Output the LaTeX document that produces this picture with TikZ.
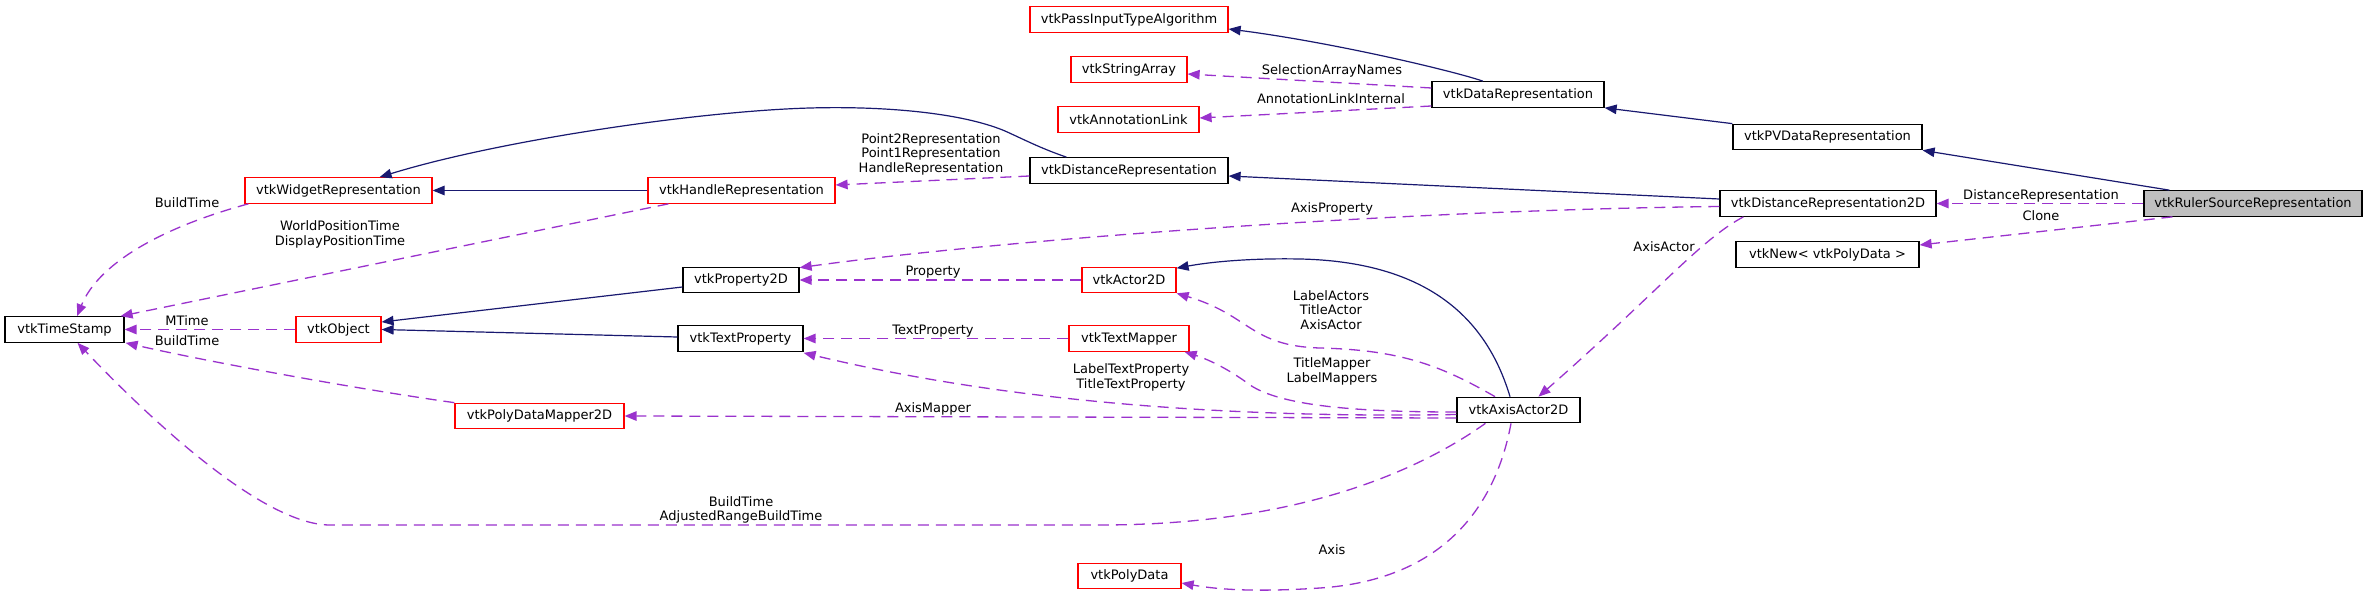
\documentclass[tikz,border=0pt]{standalone}
\usepackage{fontspec}
\setmainfont{DejaVu Sans}
\usetikzlibrary{arrows.meta,calc}
\definecolor{inh}{HTML}{191970}
\definecolor{use}{HTML}{9A32CD}
\definecolor{redb}{HTML}{FF0000}
\definecolor{grayf}{HTML}{BFBFBF}
\begin{document}
\begin{tikzpicture}[x=1pt,y=-1pt,
  font=\fontsize{13}{14.5}\selectfont,
  cls/.style={draw=black, line width=1.2pt, fill=white, minimum height=25.5pt, inner sep=0pt},
  redcls/.style={cls, draw=redb},
  inhe/.style={draw=inh, line width=1.2pt, -{Triangle[length=12pt,width=9.5pt]}},
  usee/.style={draw=use, line width=1.3pt, dash pattern=on 11pt off 7pt, -{Triangle[length=12pt,width=9.5pt]}},
  lbl/.style={inner sep=0pt, align=center}
]
\fill[white] (0,0) rectangle (2368,596);
\useasboundingbox (0,0) rectangle (2368,596);

% nodes
\node[cls, minimum width=119pt] (ts) at (64.5,329.5) {vtkTimeStamp};
\node[redcls, minimum width=85pt] (obj) at (338.5,329.5) {vtkObject};
\node[redcls, minimum width=187pt] (wr) at (338.5,190.5) {vtkWidgetRepresentation};
\node[redcls, minimum width=169pt] (pdm) at (539.5,416) {vtkPolyDataMapper2D};
\node[redcls, minimum width=187pt] (hr) at (741.5,190.5) {vtkHandleRepresentation};
\node[cls, minimum width=116pt] (p2d) at (741,280) {vtkProperty2D};
\node[cls, minimum width=125pt] (tp) at (740.5,338.5) {vtkTextProperty};
\node[redcls, minimum width=198pt] (pita) at (1129,19.5) {vtkPassInputTypeAlgorithm};
\node[redcls, minimum width=116pt] (sa) at (1129,69.5) {vtkStringArray};
\node[redcls, minimum width=141pt] (al) at (1128.5,119.5) {vtkAnnotationLink};
\node[cls, minimum width=198pt] (disr) at (1129,170.5) {vtkDistanceRepresentation};
\node[redcls, minimum width=94pt] (a2d) at (1129,280) {vtkActor2D};
\node[redcls, minimum width=120pt] (tm) at (1129,338.5) {vtkTextMapper};
\node[redcls, minimum width=103pt] (pd) at (1129.5,576) {vtkPolyData};
\node[cls, minimum width=172pt] (dr) at (1518,94.5) {vtkDataRepresentation};
\node[cls, minimum width=123pt] (aa) at (1518.5,410) {vtkAxisActor2D};
\node[cls, minimum width=189pt] (pvdr) at (1827.5,137) {vtkPVDataRepresentation};
\node[cls, minimum width=216pt] (dr2d) at (1828,203.5) {vtkDistanceRepresentation2D};
\node[cls, minimum width=183pt] (vnew) at (1827.5,254.5) {vtkNew< vtkPolyData >};
\node[cls, fill=grayf, minimum width=218pt] (ruler) at (2253,203.5) {vtkRulerSourceRepresentation};

% inheritance
\draw[inhe] ($(dr.north)+(-35,0)$) .. controls (1450,70) and (1330,42) .. ($(pita.east)+(0,9.5)$);
\draw[inhe] (pvdr.north west) -- (dr.south east);
\draw[inhe] ($(ruler.north west)+(26,0)$) -- (pvdr.south east);
\draw[inhe] ($(dr2d.west)+(0,-4.5)$) -- ($(disr.east)+(0,5.5)$);
\draw[inhe] ($(disr.north west)+(37,0)$) .. controls (1040,148) and (1025,140) .. (1005,131)
   .. controls (960,112) and (880,106) .. (810,108)
   .. controls (700,111) and (500,140) .. ($(wr.north east)+(-53,0)$);
\draw[inhe] (hr.west) -- (wr.east);
\draw[inhe] ($(p2d.west)+(0,7)$) -- ($(obj.east)+(0,-7.5)$);
\draw[inhe] ($(tp.west)+(0,-1.5)$) -- (obj.east);
\draw[inhe] ($(aa.north)+(-8.5,0)$) .. controls (1490,330) and (1440,262) .. (1300,259)
   .. controls (1250,258) and (1210,262) .. ($(a2d.north east)+(0,1.5)$);

% usage
\draw[usee] (ruler.west) -- (dr2d.east);
\draw[usee] ($(ruler.south west)+(29,0)$) -- ($(vnew.east)+(0,-9.5)$);
\draw[usee] ($(dr.west)+(0,-6.5)$) -- ($(sa.east)+(0,4.5)$);
\draw[usee] ($(dr.west)+(0,11.5)$) -- ($(al.east)+(0,-1.5)$);
\draw[usee] ($(disr.west)+(0,5.5)$) -- ($(hr.east)+(0,-5.5)$);
\draw[usee] ($(dr2d.west)+(0,3)$) .. controls (1400,210) and (1000,240) .. ($(p2d.north east)+(0,1)$);
\draw[usee] (a2d.west) -- (p2d.east);
\draw[usee] (tm.west) -- (tp.east);
\draw[usee] ($(dr2d.south west)+(24,0)$) .. controls (1700,240) and (1660,290) .. ($(aa.north)+(20,0)$);
\draw[usee] ($(aa.north)+(-23.5,0)$) .. controls (1440,365) and (1400,350) .. (1320,348)
   .. controls (1250,346) and (1250,315) .. (a2d.south east);
\draw[usee] ($(aa.west)+(0,2)$) .. controls (1350,412) and (1280,405) .. (1250,385)
   .. controls (1230,370) and (1210,360) .. ($(tm.south east)+(-5,0)$);
\draw[usee] ($(aa.west)+(0,4.5)$) .. controls (1250,418) and (1020,405) .. ($(tp.south east)+(0,1)$);
\draw[usee] ($(aa.west)+(0,8)$) -- (pdm.east);
\draw[usee] ($(aa.south west)+(29,0)$) .. controls (1420,470) and (1300,525) .. (1100,525)
   -- (330,525) .. controls (270,525) and (170,440) .. ($(ts.south)+(13,0)$);
\draw[usee] ($(aa.south)+(-7.5,0)$) .. controls (1495,510) and (1440,580) .. (1320,588)
   .. controls (1260,592) and (1220,590) .. ($(pd.east)+(0,7)$);
\draw[usee] (obj.west) -- (ts.east);
\draw[usee] (pdm.north west) .. controls (350,388) and (200,360) .. ($(ts.south east)+(1,0)$);
\draw[usee] ($(wr.south west)+(4,0)$) .. controls (170,225) and (100,260) .. ($(ts.north)+(12.5,0)$);
\draw[usee] ($(hr.south west)+(21,0)$) -- ($(ts.north east)+(-4,0)$);

% labels
\node[lbl] (ldist) at (2041,196) {DistanceRepresentation};
\node[lbl] (lclone) at (2041,216) {Clone};
\node[lbl] (lsan) at (1332,71) {SelectionArrayNames};
\node[lbl] (lali) at (1331,99) {AnnotationLinkInternal};
\node[lbl] (lhrep) at (931,154) {Point2Representation\\Point1Representation\\HandleRepresentation};
\node[lbl] (laxp) at (1332,209) {AxisProperty};
\node[lbl] (lprop) at (933,272) {Property};
\node[lbl] (ltprop) at (933,331) {TextProperty};
\node[lbl] (laxact) at (1664,247) {AxisActor};
\node[lbl] (lactors) at (1331,310) {LabelActors\\TitleActor\\AxisActor};
\node[lbl] (lmappers) at (1332,371.5) {TitleMapper\\LabelMappers};
\node[lbl] (lltp) at (1131,377.5) {LabelTextProperty\\TitleTextProperty};
\node[lbl] (lam) at (933,409) {AxisMapper};
\node[lbl] (lbt2) at (741,510) {BuildTime\\AdjustedRangeBuildTime};
\node[lbl] (laxis) at (1332,550) {Axis};
\node[lbl] (lmt) at (187,321) {MTime};
\node[lbl] (lbt1) at (187,341) {BuildTime};
\node[lbl] (lbt0) at (187,203) {BuildTime};
\node[lbl] (lwpt) at (340,234.5) {WorldPositionTime\\DisplayPositionTime};
\end{tikzpicture}
\end{document}
